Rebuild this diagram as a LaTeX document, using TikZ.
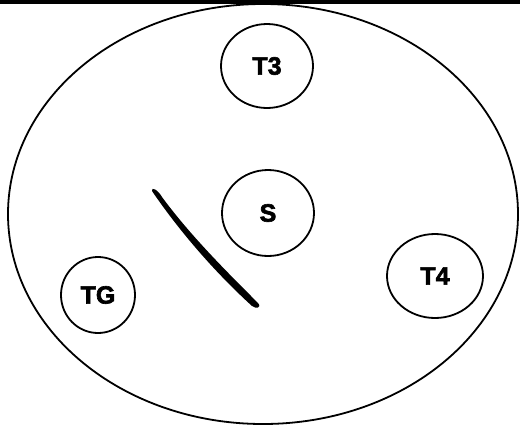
\documentclass[tikz,border=0pt]{standalone}
\usepackage{fontspec}
\setmainfont{Liberation Sans}
\newfontfamily\heavyfont[FakeBold=2.5]{Liberation Sans Bold}
\usetikzlibrary{shapes.geometric}
\begin{document}
\begin{tikzpicture}[x=1pt,y=-1pt,
  outline/.style={draw=black,line width=1.8pt},
  cnode/.style={ellipse,draw=black,line width=1.8pt,font=\fontsize{25}{25}\selectfont\heavyfont,inner sep=0pt}]
\useasboundingbox (0,0) rectangle (520,432);
\draw[line width=3.5pt] (0,2) -- (520,2);
\node[outline,ellipse,minimum width=510pt,minimum height=420pt,inner sep=0pt] (outer) at (263,214) {};
\node[cnode,minimum width=92pt,minimum height=84pt] (T3) at (267,66) {T3};
\node[cnode,minimum width=92pt,minimum height=86pt] (S) at (268,213) {S};
\node[cnode,minimum width=74pt,minimum height=76pt] (TG) at (98,295) {TG};
\node[cnode,minimum width=96pt,minimum height=84pt] (T4) at (435,276) {T4};
\fill[black] (152,191) .. controls (151,186) and (158,190) .. (162,197)
  .. controls (190,235) and (225,270) .. (258,303)
  .. controls (262,308) and (256,309) .. (252,306)
  .. controls (218,275) and (182,235) .. (152,191) -- cycle;
\end{tikzpicture}
\end{document}
